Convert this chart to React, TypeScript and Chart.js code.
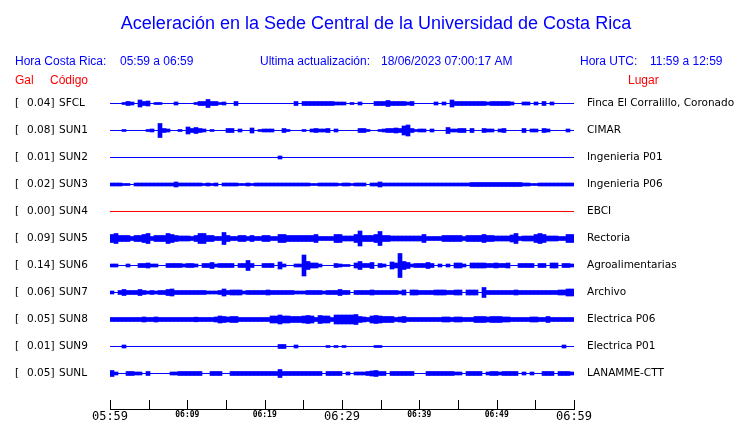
import React, { useEffect, useRef } from "react";
import { Chart, registerables } from "chart.js";

Chart.register(...registerables);

const TITLE = "Aceleración en la Sede Central de la Universidad de Costa Rica";
const LOCAL_RANGE = "05:59 a 06:59";
const UPDATED = "18/06/2023 07:00:17 AM";
const UTC_RANGE = "11:59 a 12:59";

const CODES = ["SFCL", "SUN1", "SUN2", "SUN3", "SUN4", "SUN5", "SUN6", "SUN7", "SUN8", "SUN9", "SUNL"];
const PEAK_GAL = ["0.04", "0.08", "0.01", "0.02", "0.00", "0.09", "0.14", "0.06", "0.05", "0.01", "0.05"];
const PLACES = [
  "Finca El Corralillo, Coronado",
  "CIMAR",
  "Ingenieria P01",
  "Ingenieria P06",
  "EBCI",
  "Rectoria",
  "Agroalimentarias",
  "Archivo",
  "Electrica P06",
  "Electrica P01",
  "LANAMME-CTT",
];
// time axis: 60 minutes, labels every 10 minutes
const TIME_LABELS = ["05:59", "06:09", "06:19", "06:29", "06:39", "06:49", "06:59"];
const MAJOR_LABELS = ["05:59", "06:29", "06:59"];

// trace envelopes (relative amplitude) in 116 bins across the hour
const SFCL = [
  0, 0, 0, 1, 2, 1.5, 0, 3.5, 2, 2.5,
  0, 1, 1, 0, 0, 0, 1.5, 0, 0, 0,
  0, 1, 2, 2, 4, 2, 2, 1, 1.5, 0,
  0, 2, 0, 0, 0, 0, 0, 0, 0, 0,
  0, 0, 0, 0, 0, 0, 2, 0, 2, 2,
  2, 2, 2, 2, 2, 2, 1.5, 1.5, 1.5, 0,
  1, 0, 1.5, 0, 0, 0, 2, 2, 2, 3,
  2, 2, 2, 2, 1.5, 2, 0, 0, 0, 0,
  0, 1.5, 0, 1.5, 0, 3.5, 2, 2, 2, 2,
  2, 2, 2, 2, 1.5, 2, 2, 2, 2, 2,
  1.5, 0, 0, 1.5, 1.5, 0, 1.5, 0, 2, 0,
  1.5, 0, 0, 0, 0, 0,
];
const SUN1 = [
  0, 0, 0, 1, 0, 0, 0, 0, 0, 1,
  1.5, 0, 7, 2, 1.5, 0, 0, 1, 0, 3.5,
  2, 3, 2, 1.5, 0, 1, 0, 0, 0, 2,
  2, 0, 1.5, 0, 0, 2.5, 0, 1, 1.5, 1.5,
  1.5, 0, 0, 2, 1, 0, 0, 0, 1, 0,
  1.5, 2, 1.5, 1.5, 2, 0, 1.5, 0, 0, 0,
  0, 0, 2, 2, 1, 0, 0, 1, 1.5, 2,
  2, 2.5, 2, 4.5, 5.5, 2, 1, 1.5, 1.5, 0,
  1.5, 0, 0, 0, 3, 1.5, 1.5, 2, 2, 0,
  2, 0, 0, 2, 1.5, 1.5, 0, 1.5, 2, 0,
  0, 0, 0, 2, 0, 1.5, 1.5, 0, 2, 1.5,
  0, 0, 0, 0, 1.5, 0,
];
const SUN2 = [
  0, 0, 0, 0, 0, 0, 0, 0, 0, 0,
  0, 0, 0, 0, 0, 0, 0, 0, 0, 0,
  0, 0, 0, 0, 0, 0, 0, 0, 0, 0,
  0, 0, 0, 0, 0, 0, 0, 0, 0, 0,
  0, 0, 1.5, 0, 0, 0, 0, 0, 0, 0,
  0, 0, 0, 0, 0, 0, 0, 0, 0, 0,
  0, 0, 0, 0, 0, 0, 0, 0, 0, 0,
  0, 0, 0, 0, 0, 0, 0, 0, 0, 0,
  0, 0, 0, 0, 0, 0, 0, 0, 0, 0,
  0, 0, 0, 0, 0, 0, 0, 0, 0, 0,
  0, 0, 0, 0, 0, 0, 0, 0, 0, 0,
  0, 0, 0, 0, 0, 0,
];
const SUN3 = [
  1.5, 1.5, 1.5, 1, 1, 0, 1.5, 1.5, 1.5, 1.5,
  1.5, 1.5, 1.5, 1.5, 1.5, 1.5, 2.5, 1.5, 1.5, 1.5,
  1.5, 1.5, 1.5, 1, 1.5, 1, 1.5, 0, 1.5, 1.5,
  1.5, 1.5, 1, 1, 1.5, 1, 1.5, 1.5, 1.5, 1.5,
  1.5, 1.5, 1.5, 1.5, 1.5, 1.5, 1.5, 1.5, 1.5, 1.5,
  1, 1, 1.5, 1.5, 1.5, 1.5, 1.5, 1, 1.5, 1.5,
  1, 1.5, 1.5, 1.5, 0, 1.5, 1.5, 2.5, 1.5, 1.5,
  1.5, 1.5, 1.5, 1.5, 1.5, 1.5, 1.5, 1.5, 1.5, 1.5,
  1.5, 1.5, 1.5, 1.5, 1.5, 1.5, 1.5, 1.5, 1.5, 1.5,
  2, 2, 2, 2, 2, 2, 2, 2, 2, 2,
  2, 2, 2, 1.5, 1.5, 1, 1, 1.5, 1.5, 1.5,
  1.5, 1.5, 1.5, 1.5, 1.5, 1.5,
];
const SUN4 = [
  0, 0, 0, 0, 0, 0, 0, 0, 0, 0,
  0, 0, 0, 0, 0, 0, 0, 0, 0, 0,
  0, 0, 0, 0, 0, 0, 0, 0, 0, 0,
  0, 0, 0, 0, 0, 0, 0, 0, 0, 0,
  0, 0, 0, 0, 0, 0, 0, 0, 0, 0,
  0, 0, 0, 0, 0, 0, 0, 0, 0, 0,
  0, 0, 0, 0, 0, 0, 0, 0, 0, 0,
  0, 0, 0, 0, 0, 0, 0, 0, 0, 0,
  0, 0, 0, 0, 0, 0, 0, 0, 0, 0,
  0, 0, 0, 0, 0, 0, 0, 0, 0, 0,
  0, 0, 0, 0, 0, 0, 0, 0, 0, 0,
  0, 0, 0, 0, 0, 0,
];
const SUN5 = [
  4, 5, 3, 3, 3, 2, 3, 3, 4, 5,
  2, 3, 3, 3, 5, 4, 3, 2.5, 2.5, 2.5,
  2, 3, 5, 5, 3, 3, 2, 2, 6, 3,
  2, 2, 3, 3, 2, 3, 2, 2, 3, 3,
  2, 2, 4, 4, 3, 3, 3, 3, 3, 3,
  3, 4, 2, 2, 2, 2, 4, 4, 2.5, 2.5,
  2.5, 4, 7.5, 3, 3, 3, 4, 7, 3, 3,
  2.5, 2.5, 2.5, 2.5, 2.5, 2.5, 2.5, 2.5, 4, 2,
  2, 2, 2, 3, 3, 3, 3, 3, 2, 3,
  3, 3, 3, 4, 3, 3, 2.5, 2.5, 2.5, 2.5,
  3.5, 5, 2, 2.5, 2.5, 2.5, 4, 5, 4, 2.5,
  2.5, 2.5, 2, 2, 4, 4,
];
const SUN6 = [
  1.5, 1.5, 0, 0, 1.5, 0, 0, 2, 2, 2.5,
  1.5, 1.5, 0, 0, 2, 2, 2, 2, 1.5, 2,
  2, 1.5, 0, 2, 2, 3, 1.5, 2, 2, 2,
  2, 0, 2, 2, 5, 2, 0, 0, 2, 2,
  2, 0, 3.5, 1.5, 0, 0, 1.5, 1.5, 10.5, 4,
  2.5, 2.5, 1.5, 0, 0, 0, 2, 1.5, 1, 1,
  0, 2.5, 4, 2, 2, 3, 0, 2, 1.5, 0,
  3.5, 2.5, 12, 4, 3, 1.5, 2, 2, 2, 3,
  2, 0, 1.5, 0, 1.5, 0, 2.5, 2.5, 1.5, 0,
  2.5, 2.5, 2.5, 2.5, 2, 2, 2.5, 2, 2, 2.5,
  0, 0, 2, 2, 2, 2, 0, 2, 2, 0,
  2.5, 2.5, 0, 2, 2, 1.5,
];
const SUN7 = [
  1.5, 0, 2, 3, 2, 2, 2, 3, 2, 1.5,
  2, 1.5, 2, 2, 3, 3.5, 2, 2, 2, 2,
  2, 2, 2, 2, 1.5, 1.5, 1.5, 2, 3.5, 2,
  2.5, 2.5, 2.5, 1.5, 2, 2, 2, 2, 2, 2.5,
  2, 2, 2, 2, 2, 2, 1.5, 1.5, 1.5, 2,
  2, 2, 2, 1.5, 2, 2, 2, 3, 2, 2,
  0, 2, 2, 2, 2, 2.5, 2, 2, 2, 2,
  2, 2, 1.5, 2.5, 0, 2.5, 2.5, 2, 2, 2,
  2, 2.5, 2.5, 2.5, 2, 2, 2.5, 2.5, 0, 2.5,
  2.5, 2.5, 0, 5, 2, 2, 2, 2, 2, 2,
  2, 2.5, 2, 2, 2, 2, 2, 2, 2, 2,
  2, 2, 2.5, 2.5, 3.5, 3.5,
];
const SUN8 = [
  2, 2, 2, 2, 2, 2, 2, 2, 2.5, 2,
  2, 2.5, 2, 2, 2, 2, 2, 2, 2, 2,
  2, 2.3, 2, 2, 2, 2, 2.5, 3.5, 3, 2.5,
  3, 3, 2, 2, 2, 2, 2, 2, 2, 2,
  3.5, 3.5, 4.5, 3.5, 3.5, 3, 3, 3, 3.5, 4,
  3.5, 2, 4, 3.5, 3.5, 2, 4.5, 4.5, 4.5, 4.5,
  4.5, 5, 3, 2.5, 2, 3.5, 4, 3.5, 3, 3,
  3, 2, 2.5, 3, 2, 2, 2, 2, 2, 2,
  2, 2, 2, 2.5, 2.5, 2, 2.5, 2.5, 2, 2,
  2, 3, 3, 3, 2.5, 3, 3, 3, 2.5, 2.5,
  2, 2, 2, 2, 2, 2.5, 2.5, 2, 2, 3,
  2, 2, 2, 2, 2, 2,
];
const SUN9 = [
  0, 0, 0, 1.5, 0, 0, 0, 0, 0, 0,
  0, 0, 0, 0, 0, 0, 0, 0, 0, 0,
  0, 0, 0, 0, 0, 0, 0, 0, 0, 0,
  0, 0, 0, 0, 0, 0, 0, 0, 0, 0,
  0, 0, 2, 2, 0, 0, 1.5, 0, 0, 0,
  0, 0, 0, 0, 1, 0, 1, 0, 1, 0,
  0, 0, 0, 0, 0, 0, 1, 1, 0, 0,
  0, 0, 0, 0, 0, 0, 0, 0, 0, 0,
  0, 0, 0, 0, 0, 0, 0, 0, 0, 0,
  0, 0, 0, 0, 0, 0, 0, 0, 0, 0,
  0, 0, 0, 0, 0, 0, 0, 0, 0, 0,
  0, 0, 0, 1.5, 0, 0,
];
const SUNL = [
  3, 1.5, 0, 0, 2, 2, 1.5, 1.5, 0, 2,
  0, 0, 0, 0, 0, 1.5, 1.5, 2, 2, 2,
  2, 2, 2, 0, 0, 2, 2, 2, 0, 0,
  2, 2, 2, 2, 2, 2, 2, 2, 2, 2,
  2, 2, 4, 2, 2, 2, 2, 2, 2, 2,
  2, 2, 2, 0, 2, 2, 2, 2, 0, 1.5,
  0, 1.5, 1.5, 1.5, 2, 2.5, 3, 2, 2, 0,
  2, 2, 2, 2, 2, 2, 0, 0, 0, 2,
  2, 2, 2, 2, 2, 2, 1.5, 1.5, 0, 2,
  2, 2, 2, 0, 1.5, 2, 2, 1.5, 2, 2,
  2, 2, 0, 1.5, 0, 1.5, 0, 0, 2, 2,
  2, 0, 2, 2, 2, 1.5,
];

const TRACES = [SFCL, SUN1, SUN2, SUN3, SUN4, SUN5, SUN6, SUN7, SUN8, SUN9, SUNL];

const BLUE = "#0000ff";
const RED = "#ff0000";
const ROW_PX = 27;

const textPlugin = {
  id: "seismoTexts",
  afterDraw(chart: any) {
    const { ctx, chartArea } = chart;
    const ys = chart.scales.y;
    const xs = chart.scales.x;
    ctx.save();
    // title
    ctx.fillStyle = BLUE;
    ctx.textBaseline = "alphabetic";
    ctx.textAlign = "center";
    ctx.font = '18px "Liberation Sans", Arial, sans-serif';
    ctx.fillText(TITLE, 376, 29);
    // header line
    ctx.textAlign = "left";
    ctx.font = '12px "Liberation Sans", Arial, sans-serif';
    ctx.fillText("Hora Costa Rica:", 15, 65);
    ctx.fillText(LOCAL_RANGE, 120, 65);
    ctx.fillText("Ultima actualización:", 260, 65);
    ctx.fillText(UPDATED, 381, 65);
    ctx.fillText("Hora UTC:", 580, 65);
    ctx.fillText(UTC_RANGE, 650, 65);
    ctx.fillStyle = RED;
    ctx.fillText("Gal", 15, 84);
    ctx.fillText("Código", 50, 84);
    ctx.fillText("Lugar", 628, 84);
    // row labels
    ctx.fillStyle = "#000";
    ctx.textBaseline = "middle";
    ctx.font = '10.5px "DejaVu Sans", sans-serif';
    CODES.forEach((code, r) => {
      const py = ys.getPixelForValue(r);
      ctx.fillText("[", 15, py);
      ctx.fillText(PEAK_GAL[r] + "]", 27, py);
      ctx.fillText(code, 59, py);
      ctx.fillText(PLACES[r], 587, py);
    });
    // upward tick marks on time axis
    ctx.strokeStyle = "#000";
    ctx.lineWidth = 1;
    xs.ticks.forEach((t: any) => {
      const px = Math.round(xs.getPixelForValue(t.value)) + 0.5;
      ctx.beginPath();
      ctx.moveTo(px, chartArea.bottom - 9);
      ctx.lineTo(px, chartArea.bottom);
      ctx.stroke();
    });
    ctx.restore();
  },
};

export default function App() {
  const ref = useRef<HTMLCanvasElement | null>(null);
  useEffect(() => {
    if (!ref.current) return;
    const binLabels = SFCL.map((_, i) => String(i));
    const datasets: any[] = [];
    TRACES.forEach((arr, r) => {
      datasets.push({
        type: "line",
        xAxisID: "x",
        yAxisID: "y",
        data: [
          { x: 0, y: r },
          { x: 60, y: r },
        ],
        borderColor: CODES[r] === "SUN4" ? RED : BLUE,
        borderWidth: 1,
        pointRadius: 0,
        fill: false,
      });
      datasets.push({
        type: "bar",
        xAxisID: "xb",
        yAxisID: "y",
        data: arr.map((a) => (a > 0 ? [r - a / ROW_PX, r + a / ROW_PX] : null)),
        backgroundColor: BLUE,
        borderWidth: 0,
        grouped: false,
        barPercentage: 1,
        categoryPercentage: 1,
      });
    });
    const chart = new Chart(ref.current, {
      type: "bar",
      data: { labels: binLabels, datasets },
      options: {
        animation: false,
        responsive: false,
        devicePixelRatio: 1,
        layout: { padding: { left: 110, right: 166, top: 90, bottom: 0 } },
        plugins: { legend: { display: false }, tooltip: { enabled: false }, title: { display: false } },
        scales: {
          x: {
            type: "linear",
            position: "bottom",
            offset: false,
            min: 0,
            max: 60,
            grid: { display: false, drawTicks: false, tickLength: 0, offset: false },
            border: { display: true, color: "#000", width: 1 },
            ticks: {
              stepSize: 5,
              autoSkip: false,
              maxRotation: 0,
              minRotation: 0,
              padding: 1,
              color: "#000",
              callback: (v: any) => (Number(v) % 10 === 0 ? TIME_LABELS[Number(v) / 10] : ""),
              font: (ctx: any) => {
                const v = ctx.tick ? ctx.tick.value : 0;
                const lbl = v % 10 === 0 ? TIME_LABELS[v / 10] : "";
                return MAJOR_LABELS.includes(lbl)
                  ? { family: '"DejaVu Sans Mono", monospace', size: 12 }
                  : { family: '"DejaVu Sans Mono", monospace', size: 8, weight: "bold" };
              },
            },
            afterFit: (s: any) => {
              s.height = 14;
            },
          },
          xb: { type: "category", display: false, offset: true },
          y: { type: "linear", display: false, min: -0.5, max: 11.315, reverse: true },
        },
      } as any,
      plugins: [textPlugin],
    });
    return () => chart.destroy();
  }, []);
  return (
    <div style={{ position: "absolute", left: 0, top: 0, width: 740, height: 423, background: "#fff" }}>
      <canvas ref={ref} width={740} height={423} style={{ width: 740, height: 423, display: "block" }} />
    </div>
  );
}
